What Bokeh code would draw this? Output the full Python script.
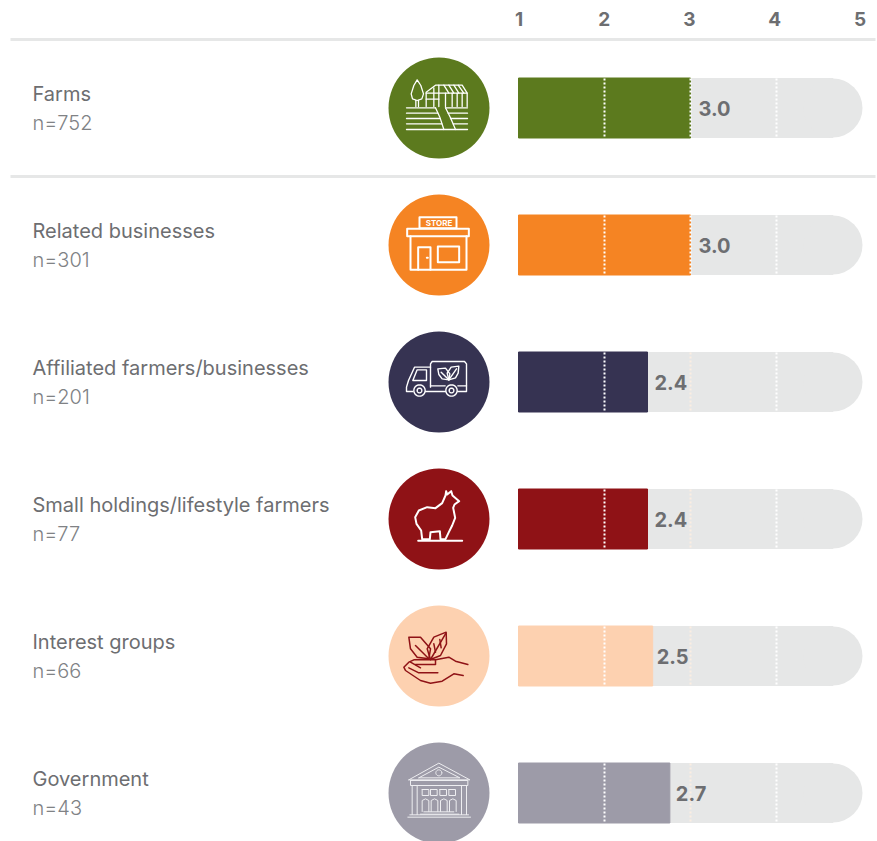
from bokeh.plotting import figure
from bokeh.models import Range1d, LinearAxis, FixedTicker
from bokeh.core.properties import value
from bokeh.embed import file_html
from bokeh.resources import INLINE
import math

# ---- data ----
categories = ["Farms", "Related businesses", "Affiliated farmers/businesses",
              "Small holdings/lifestyle farmers", "Interest groups", "Government"]
sample_sizes = ["n=752", "n=301", "n=201", "n=77", "n=66", "n=43"]
score_labels = ["3.0", "3.0", "2.4", "2.4", "2.5", "2.7"]
bar_ends = [3.0, 3.0, 2.5, 2.5, 2.56, 2.76]     # bar lengths as drawn in the picture
colors = ["#5c7a1e", "#f58423", "#363352", "#8f1216", "#fdd1b0", "#9d9ba8"]
tick_values = [1, 2, 3, 4, 5]

GREY = "#6d6e71"
LIGHT = "#e6e7e7"
FONT = "Inter"

W, H = 877, 841
p = figure(width=W, height=H, output_backend="svg", toolbar_location=None,
           x_range=Range1d(0, W), y_range=Range1d(H, 34),
           x_axis_location=None, y_axis_location=None,
           min_border_left=0, min_border_right=0, min_border_bottom=0, min_border_top=34)
p.grid.visible = False
p.outline_line_color = None

PX = 86.0
p.extra_x_ranges["score"] = Range1d(1 + (0 - 518) / PX, 1 + (W - 518) / PX)
TPX = 85.25
p.extra_x_ranges["ticks"] = Range1d(1 + (0 - 518.5) / TPX, 1 + (W - 518.5) / TPX)

axis = LinearAxis(x_range_name="ticks", ticker=FixedTicker(ticks=tick_values))
axis.axis_line_color = None
axis.major_tick_line_color = None
axis.minor_tick_line_color = None
axis.major_label_standoff = 3
axis.major_label_text_font = FONT
axis.major_label_text_font_style = "bold"
axis.major_label_text_font_size = "19px"
axis.major_label_text_color = GREY
p.add_layout(axis, "above")

centers = [107.5 + 137 * i for i in range(6)]

# rules
p.segment([10, 10], [39, 176], [875, 875], [39, 176], line_color=LIGHT, line_width=3)

# tracks
HALF = 29.5
track_end = 5 - HALF / PX
p.hbar(y=centers, left=1, right=track_end, height=59, color=LIGHT, x_range_name="score")
p.scatter(x=[track_end] * 6, y=centers, size=59, marker="circle", color=LIGHT, line_width=0,
          x_range_name="score")
# bars
p.hbar(y=centers, left=1, right=bar_ends, height=60, color=colors, x_range_name="score")

# dotted lines
for i, c in enumerate(centers):
    p.segment([2, 4], [c - 29.5] * 2, [2, 4], [c + 29.5] * 2, line_color="white", line_width=2,
              line_dash="2 2", x_range_name="score")
    p.segment([3], [c - 29.5], [3], [c + 29.5], line_color="#ffffff" if i < 2 else "#fbeee2",
              line_width=2, line_dash="2 2", x_range_name="score")

# score labels
offsets = [8, 8, 7, 7, 4, 6]
for i, c in enumerate(centers):
    p.text(x=[bar_ends[i]], y=[c], text=[score_labels[i]], x_range_name="score", x_offset=offsets[i],
           text_font=value(FONT), text_font_style="bold", text_font_size="20px", text_color=GREY,
           text_baseline="middle", text_align="left")

# names
p.text(x=[32] * 6, y=[c - 14.5 for c in centers], text=categories, text_font=value(FONT),
       text_font_size="20px", text_color=GREY, text_baseline="middle")
p.text(x=[32] * 6, y=[c + 15 for c in centers], text=sample_sizes, text_font=value("Inter Light"),
       text_font_size="20px", text_color="#808285", text_baseline="middle")

# circles
p.scatter(x=[438.5] * 6, y=centers, size=101, marker="circle", color=colors, line_width=0)


def conv(ox, oy, pts):
    """zoomed-crop coordinates of the icon outlines → picture pixels"""
    return [ox + a / 3 for a, b in pts], [oy + b / 3 for a, b in pts]


def draw(ox, oy, paths, color, lw):
    xs, ys = [], []
    for pts in paths:
        x, y = conv(ox, oy, pts)
        xs.append(x)
        ys.append(y)
    p.multi_line(xs, ys, line_color=color, line_width=lw, line_join="round", line_cap="round")


def ring(cx, cy, rx, ry=None, n=28):
    ry = rx if ry is None else ry
    return [(cx + rx * math.cos(2 * math.pi * k / n), cy + ry * math.sin(2 * math.pi * k / n))
            for k in range(n + 1)]


def box(a, b, c, d):
    return [(a, b), (c, b), (c, d), (a, d), (a, b)]


# farm
farm = [
    [(78, 322), (165, 322)], [(195, 322), (261, 322)],
    [(78, 338), (172, 338)], [(203, 338), (261, 338)],
    [(78, 354), (178, 354)], [(210, 354), (261, 354)],
    [(78, 370), (184, 370)], [(218, 370), (261, 370)],
    [(78, 387), (261, 387)],
    [(165, 322), (178, 350), (190, 387)], [(195, 322), (210, 352), (225, 387)],
    [(110, 238), (100, 255), (92, 280), (96, 295), (110, 300), (124, 295), (129, 280), (121, 255), (110, 238)],
    [(106, 300), (106, 318)], [(114, 300), (114, 318)],
    [(137, 318), (137, 275), (165, 254), (245, 254), (260, 278), (260, 318)],
    [(137, 278), (260, 278)], [(137, 296), (175, 296)],
    [(160, 318), (160, 262)], [(175, 318), (175, 254)], [(195, 318), (195, 278)],
    [(215, 318), (215, 278)], [(230, 318), (230, 278)], [(245, 318), (245, 278)],
    [(190, 254), (205, 278)], [(205, 254), (220, 278)], [(220, 254), (235, 278)], [(233, 254), (250, 278)],
]
draw(380, 0, farm, "white", 1.3)

# store
store = [
    box(117, 80, 228, 113), box(80, 115, 265, 137),
    [(90, 137), (90, 238), (258, 238), (258, 137)],
    [(113, 238), (113, 170), (150, 170), (150, 238)], box(172, 168, 236, 215),
    [(139, 202), (142, 202)],
]
draw(380, 190, store, "white", 2)
p.text(x=[438.5], y=[222.5], text=["STORE"], text_font=value("Inter"), text_font_style="bold",
       text_font_size="8px", text_color="white", text_align="center", text_baseline="middle")

# truck
truck = [
    [(150, 590), (150, 520), (155, 513), (252, 513), (258, 520), (258, 603), (232, 603)],
    [(195, 603), (135, 603)], [(150, 586), (194, 586)], [(232, 586), (258, 586)],
    [(97, 603), (78, 603), (78, 590), (84, 570), (102, 530), (150, 530)],
    [(97, 570), (110, 538), (138, 538), (138, 570), (97, 570)],
    ring(117, 600, 17), ring(117, 600, 7), ring(213, 600, 17), ring(213, 600, 7),
    [(172, 535), (195, 533), (208, 550), (205, 568), (185, 565), (175, 552), (172, 535)],
    [(235, 527), (212, 530), (200, 548), (205, 568), (225, 562), (233, 548), (235, 527)],
    [(182, 545), (205, 568)], [(228, 535), (205, 568)],
]
draw(380, 190, truck, "white", 1.4)

# alpaca
alpaca = [
    [(197, 92), (200, 102), (212, 92), (216, 105), (236, 122), (222, 132), (218, 142), (224, 172), (215, 195),
     (205, 215), (195, 236), (180, 236), (178, 212), (150, 215), (148, 236), (125, 236), (122, 210),
     (108, 190), (104, 170), (115, 150), (140, 140), (165, 143), (185, 128), (195, 105), (197, 92)],
    [(113, 241), (245, 241)],
]
draw(380, 460, alpaca, "white", 2)

# hand and leaves
hand = [
    [(85, 530), (120, 530), (150, 565), (145, 595), (110, 590), (90, 565), (85, 530)],
    [(197, 515), (160, 530), (140, 565), (150, 597), (180, 585), (198, 550), (197, 515)],
    [(105, 555), (145, 595)], [(195, 520), (150, 597)], [(160, 550), (165, 575)], [(178, 537), (182, 562)],
    [(165, 598), (205, 590), (225, 602), (262, 612)],
    [(248, 645), (220, 640), (185, 662), (150, 668), (120, 660), (75, 630), (70, 620), (85, 605), (100, 598),
     (125, 597), (165, 598), (165, 612), (105, 612)],
    [(85, 622), (115, 637), (172, 637)], [(90, 605), (120, 622)],
]
draw(380, 460, hand, "#8f1216", 1.5)

# government
gov = [
    [(85, 133), (175, 83), (268, 133), (85, 133)],
    [(115, 127), (175, 95), (238, 127), (115, 127)], ring(175, 112, 9),
    box(90, 135, 262, 150),
    [(95, 150), (95, 237)], [(110, 150), (110, 237)], [(243, 150), (243, 237)], [(258, 150), (258, 237)],
    box(125, 162, 145, 180), box(150, 162, 170, 180), box(178, 162, 198, 180), box(205, 162, 225, 180),
    [(125, 228), (125, 195), (135, 190), (145, 195), (145, 228)],
    [(152, 228), (152, 195), (162, 190), (172, 195), (172, 228)],
    [(180, 228), (180, 195), (190, 190), (200, 195), (200, 228)],
    [(207, 228), (207, 195), (217, 190), (227, 195), (227, 228)],
    [(120, 236), (235, 236)], [(130, 229), (220, 229)], [(82, 245), (270, 245)], [(88, 238), (264, 238)],
]
draw(380, 735, gov, "#eeeef1", 1)

open("out.html", "w").write(file_html(p, INLINE))
